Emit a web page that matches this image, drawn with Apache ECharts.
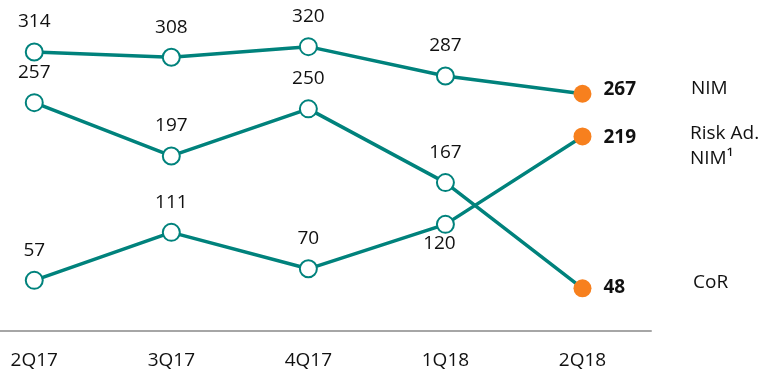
<!DOCTYPE html>
<html><head><meta charset="utf-8">
<script src="https://cdn.jsdelivr.net/npm/echarts@6/dist/echarts.min.js"></script>
<style>html,body{margin:0;padding:0;background:#fff}#c{width:765px;height:374px}</style>
</head><body><div id="c"></div>
<script>
const categories = ['2Q17','3Q17','4Q17','1Q18','2Q18'];
// lines as drawn in the reference
const nim = [314, 308, 320, 287, 267];
const upperLine = [257, 197, 250, 167, 48];
const lowerLine = [57, 111, 70, 120, 219];
const seriesNames = ['NIM', 'Risk Ad.\nNIM¹', 'CoR'];

const teal = '#00827c';
const orange = '#f7801e';
const font = '"Open Sans", "Noto Sans", sans-serif';
const fs = 19;

function buildData(vals, overrides) {
  return vals.map((v, i) => {
    const last = i === vals.length - 1;
    const d = { value: [i, v] };
    let lab = {};
    if (last) {
      d.symbolSize = 18;
      d.itemStyle = { color: orange, borderColor: orange, borderWidth: 0 };
      lab = { position: 'right', distance: 12, fontWeight: 'bold' };
    }
    if (overrides && overrides[i]) lab = Object.assign(lab, overrides[i]);
    if (Object.keys(lab).length) d.label = lab;
    return d;
  });
}

function mkSeries(name, vals, overrides) {
  return {
    name, type: 'line', data: buildData(vals, overrides),
    symbol: 'circle', symbolSize: 17,
    lineStyle: { color: teal, width: 3.5 },
    itemStyle: { color: '#fff', borderColor: teal, borderWidth: 2 },
    label: { show: true, position: 'top', distance: 11, color: '#111', fontSize: fs, fontFamily: font,
      formatter: p => p.value[1] },
    z: 3
  };
}

const chart = echarts.init(document.getElementById('c'));
chart.setOption({
  animation: false,
  grid: { left: 0, width: 651, top: 20, bottom: 43 },
  xAxis: {
    type: 'value', min: -0.25, max: 4.5,
    splitLine: { show: false },
    axisLine: { show: true, onZero: false, lineStyle: { color: '#a6a6a6', width: 2 } },
    axisTick: { show: false },
    axisLabel: { color: '#111', fontSize: fs, fontFamily: font, margin: 20,
      customValues: [0, 1, 2, 3, 4], formatter: v => categories[Math.round(v)] }
  },
  yAxis: { type: 'value', min: 0, max: 350, show: false, splitLine: { show: false } },
  series: [
    mkSeries('NIM', nim, { 4: { offset: [0, -4] } }),
    mkSeries('Risk Ad. NIM / CoR (upper)', upperLine, { 4: { offset: [0, -1] } }),
    mkSeries('CoR / Risk Ad. NIM (lower)', lowerLine, { 3: { position: 'bottom', distance: 0, offset: [-6, 0] }, 4: { offset: [0, 1] } })
  ],
  graphic: [
    { type: 'text', left: 691, top: 79, style: { text: seriesNames[0], fontSize: fs, fontFamily: font, fill: '#111' } },
    { type: 'text', left: 690, top: 121, style: { text: seriesNames[1], fontSize: fs, fontFamily: font, fill: '#111', lineHeight: 25 } },
    { type: 'text', left: 693, top: 273, style: { text: seriesNames[2], fontSize: fs, fontFamily: font, fill: '#111' } }
  ]
});
</script></body></html>
